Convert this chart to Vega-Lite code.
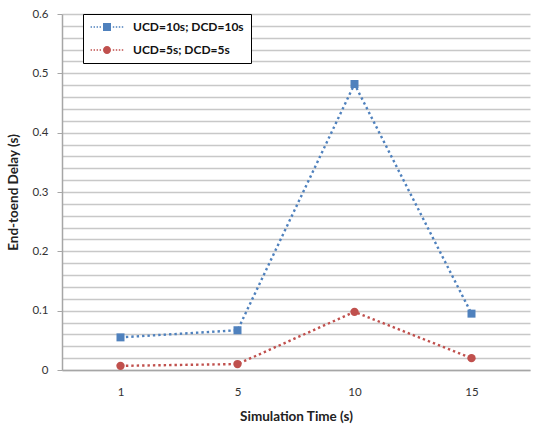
{
  "$schema": "https://vega.github.io/schema/vega-lite/v6.json",
  "width": 468,
  "height": 356,
  "autosize": {"type": "none"},
  "padding": {"left": 62, "top": 14, "right": 9, "bottom": 55},
  "background": "white",
  "config": {
    "font": "Lato",
    "view": {"stroke": null}
  },
  "data": {
    "values": [
      {"time": 1, "series": "UCD=10s; DCD=10s", "delay": 0.055},
      {"time": 5, "series": "UCD=10s; DCD=10s", "delay": 0.067},
      {"time": 10, "series": "UCD=10s; DCD=10s", "delay": 0.482},
      {"time": 15, "series": "UCD=10s; DCD=10s", "delay": 0.095},
      {"time": 1, "series": "UCD=5s; DCD=5s", "delay": 0.007},
      {"time": 5, "series": "UCD=5s; DCD=5s", "delay": 0.010},
      {"time": 10, "series": "UCD=5s; DCD=5s", "delay": 0.098},
      {"time": 15, "series": "UCD=5s; DCD=5s", "delay": 0.020}
    ]
  },
  "encoding": {
    "x": {
      "field": "time", "type": "ordinal",
      "scale": {"type": "point", "padding": 0.5},
      "axis": {
        "title": "Simulation Time (s)",
        "titleFont": "Lato", "titleFontSize": 13.5, "titleFontWeight": "bold", "titleColor": "#222",
        "titlePadding": 12,
        "labelAngle": 0, "labelFontSize": 11.5, "labelColor": "#333", "labelPadding": 16,
        "ticks": false, "domainColor": "#a6a6a6", "domainWidth": 1.5, "grid": false
      }
    },
    "y": {
      "field": "delay", "type": "quantitative",
      "scale": {"domain": [0, 0.6], "nice": false, "zero": true},
      "axis": {
        "title": "End-toend Delay (s)",
        "titleFont": "Lato", "titleFontSize": 13.5, "titleFontWeight": "bold", "titleColor": "#222",
        "titlePadding": 11,
        "values": [0, 0.02, 0.04, 0.06, 0.08, 0.1, 0.12, 0.14, 0.16, 0.18, 0.2, 0.22, 0.24, 0.26, 0.28, 0.3, 0.32, 0.34, 0.36, 0.38, 0.4, 0.42, 0.44, 0.46, 0.48, 0.5, 0.52, 0.54, 0.56, 0.58, 0.6],
        "labelExpr": "abs(datum.value*10 - round(datum.value*10)) < 0.001 ? (datum.value == 0 ? '0' : format(datum.value, '.1f')) : ''",
        "labelFontSize": 11.5, "labelColor": "#333", "labelPadding": 9,
        "tickSize": 5, "tickColor": "#a6a6a6",
        "tickOpacity": {"condition": {"test": "abs(datum.value*10 - round(datum.value*10)) < 0.001", "value": 1}, "value": 0},
        "domainColor": "#a6a6a6", "domainWidth": 1.5,
        "grid": true, "gridColor": "#c8c8c8", "gridWidth": 1.5
      }
    },
    "color": {
      "field": "series", "type": "nominal",
      "scale": {"domain": ["UCD=10s; DCD=10s", "UCD=5s; DCD=5s"], "range": ["#4F81BD", "#C0504D"]},
      "legend": {
        "title": null,
        "orient": "none", "legendX": 21, "legendY": 0,
        "strokeColor": "#000", "fillColor": "white",
        "padding": 7,
        "rowPadding": 11,
        "labelFontSize": 12, "labelFontWeight": "bold", "labelColor": "#111", "labelFont": "Lato",
        "symbolSize": 64, "symbolOffset": 11, "labelOffset": 20, "symbolStrokeWidth": 0,
        "encode": {
          "symbols": {
            "update": {
              "shape": {"signal": "datum.value == 'UCD=10s; DCD=10s' ? 'M-1,-1h2v2h-2z M-4.1,-0.18h0.36v0.36h-0.36z M-3.35,-0.18h0.36v0.36h-0.36z M-2.6,-0.18h0.36v0.36h-0.36z M-1.85,-0.18h0.36v0.36h-0.36z M1.45,-0.18h0.36v0.36h-0.36z M2.2,-0.18h0.36v0.36h-0.36z M2.95,-0.18h0.36v0.36h-0.36z M3.7,-0.18h0.36v0.36h-0.36z' : 'M-1,0a1,1 0 1,0 2,0a1,1 0 1,0 -2,0z M-4.1,-0.18h0.36v0.36h-0.36z M-3.35,-0.18h0.36v0.36h-0.36z M-2.6,-0.18h0.36v0.36h-0.36z M-1.85,-0.18h0.36v0.36h-0.36z M1.45,-0.18h0.36v0.36h-0.36z M2.2,-0.18h0.36v0.36h-0.36z M2.95,-0.18h0.36v0.36h-0.36z M3.7,-0.18h0.36v0.36h-0.36z'"},
              "fill": {"signal": "datum.value == 'UCD=10s; DCD=10s' ? '#4F81BD' : '#C0504D'"},
              "opacity": {"value": 1},
              "fillOpacity": {"value": 1},
              "strokeWidth": {"value": 0}
            }
          }
        }
      }
    }
  },
  "layer": [
    {
      "mark": {"type": "line", "strokeDash": [2.4, 3], "strokeWidth": 2.4},
      "encoding": {}
    },
    {
      "transform": [{"filter": "datum.series == 'UCD=10s; DCD=10s'"}],
      "mark": {"type": "point", "filled": true, "opacity": 1, "size": 64, "shape": "square"},
      "encoding": {}
    },
    {
      "transform": [{"filter": "datum.series == 'UCD=5s; DCD=5s'"}],
      "mark": {"type": "point", "filled": true, "opacity": 1, "size": 70, "shape": "circle"},
      "encoding": {}
    }
  ]
}
